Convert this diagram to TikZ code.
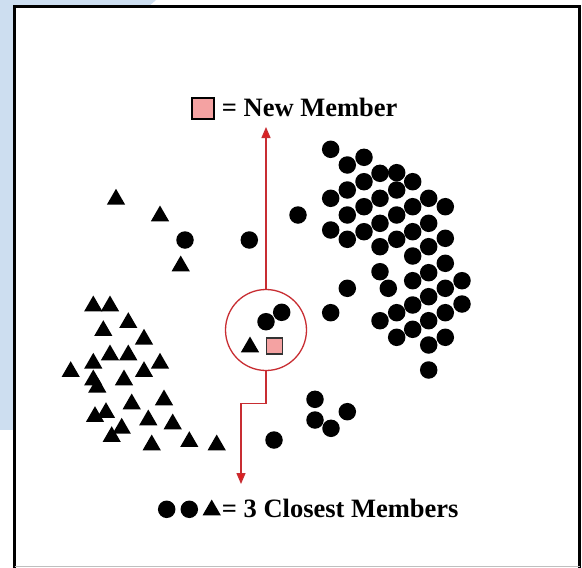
\documentclass[tikz,border=0pt]{standalone}
\usepackage{fontspec}
\setmainfont{Liberation Serif}
\usetikzlibrary{shapes.geometric,arrows.meta}
\definecolor{bgblue}{RGB}{205,222,240}
\definecolor{redline}{RGB}{200,45,50}
\definecolor{redtip}{RGB}{225,30,30}
\definecolor{pinkfill}{RGB}{244,162,162}
\begin{document}
\begin{tikzpicture}[x=1pt,y=-1pt,
  dot/.style={circle,fill=black,inner sep=0pt,minimum size=17.5pt},
  tri/.style={regular polygon,regular polygon sides=3,fill=black,inner sep=0pt,minimum size=21pt},
  newsq/.style={rectangle,fill=pinkfill,draw=black!80,line width=1.3pt,inner sep=0pt,minimum size=16pt},
  ring/.style={circle,draw=redline,line width=1.3pt,minimum size=81pt,inner sep=0pt},
  lbl/.style={font=\fontsize{26.5}{30}\selectfont\bfseries,inner sep=0pt,anchor=base west},
  arr/.style={draw=redline,line width=1.4pt,-{Triangle[width=9pt,length=11pt,fill=redtip]}}
]
\useasboundingbox (0,0) rectangle (582,568);
\fill[white] (0,0) rectangle (582,568);
% light blue background
\fill[bgblue] (0,0) -- (156,0) -- (148,7) -- (0,7) -- cycle;
\fill[bgblue] (0,0) rectangle (13,430);
% frame
\draw[line width=3.5pt] (14.7,572) -- (14.7,6.3) -- (579.5,6.3) -- (579.5,572);
\draw[black!25,line width=1pt] (14.7,566) -- (579.5,566);

% right cluster of circles
\foreach \x/\y [count=\i] in {
330.7/149.3, 347.3/165, 364/157.3, 380/173.3, 396.7/172.7, 412.7/181.7,
364/181.7, 347.3/190, 330.7/198.3, 380/198.3, 396.7/190, 428.7/198.3,
445.3/206.7, 412.7/206.7, 396.7/215, 364/206.7, 347.3/215, 330.7/230,
347.3/239.3, 364/231.7, 380/223.3, 412.7/231.7, 428.7/223.3, 396.7/239.3,
380/246.7, 445.3/238.3, 428.7/246.7, 412.7/256, 445.3/263.3, 428.7/272.7,
380/271.7, 412.7/280.7, 462/280.7, 388.3/288.3, 347.3/288.3, 445.3/288.3,
428.7/296.7, 412.7/305, 462/304, 396.7/312.7, 330.7/312.7, 380/320.7,
445.3/312.7, 428.7/320.7, 412.7/329.3, 396.7/337.3, 445.3/337.3, 428.7/345,
428.7/370, 298/215,
185/240, 249.3/240,
315/399.3, 347.3/411.7, 315/420, 331/428.3, 274/440}
  \node[dot] (c\i) at (\x,\y) {};

% triangles
\foreach \x/\y [count=\i] in {
116/199.3, 160/216, 180.7/266,
93.3/306, 110/306, 128.3/322.7, 103.3/330.7, 144/339.3,
110/355, 128.3/355, 93.3/363.3, 160/363.3, 70.7/371.7, 144/371.7,
93.3/380, 124/380, 97.3/387.3, 131.7/404, 164/400, 106/412.7, 95/416.7,
148.3/420, 172.7/424, 121.7/428.3, 111.7/436.7, 151.7/445, 189.3/441.7, 216.7/445}
  \node[tri] (t\i) at (\x,\y) {};

% the neighbourhood
\node[ring] (ring) at (266,330) {};
\node[dot] (n1) at (266,321.7) {};
\node[dot] (n2) at (281.7,312.3) {};
\node[tri] (n3) at (250,347) {};
\node[newsq] (new) at (274.7,346) {};

% arrows
\coordinate (toptip) at (266,127);
\coordinate (bend1) at (266,403.5);
\coordinate (bend2) at (241,403.5);
\coordinate (bottip) at (241,484);
\draw[arr] (ring.north) -- (toptip);
\draw[arr] (ring.south) -- (bend1) -- (bend2) -- (bottip);

% legends
\node[rectangle,fill=pinkfill,draw=black,line width=2pt,inner sep=0pt,minimum width=22pt,minimum height=21pt] (legsq) at (203,108.7) {};
\node[lbl] (legtop) at (221.7,116.7) {= New Member};
\node[dot] (lc1) at (166.7,509.3) {};
\node[dot] (lc2) at (189.3,509.3) {};
\node[tri] (lt) at (211.7,510) {};
\node[lbl] (legbot) at (221.7,517.3) {= 3 Closest Members};
\end{tikzpicture}
\end{document}
